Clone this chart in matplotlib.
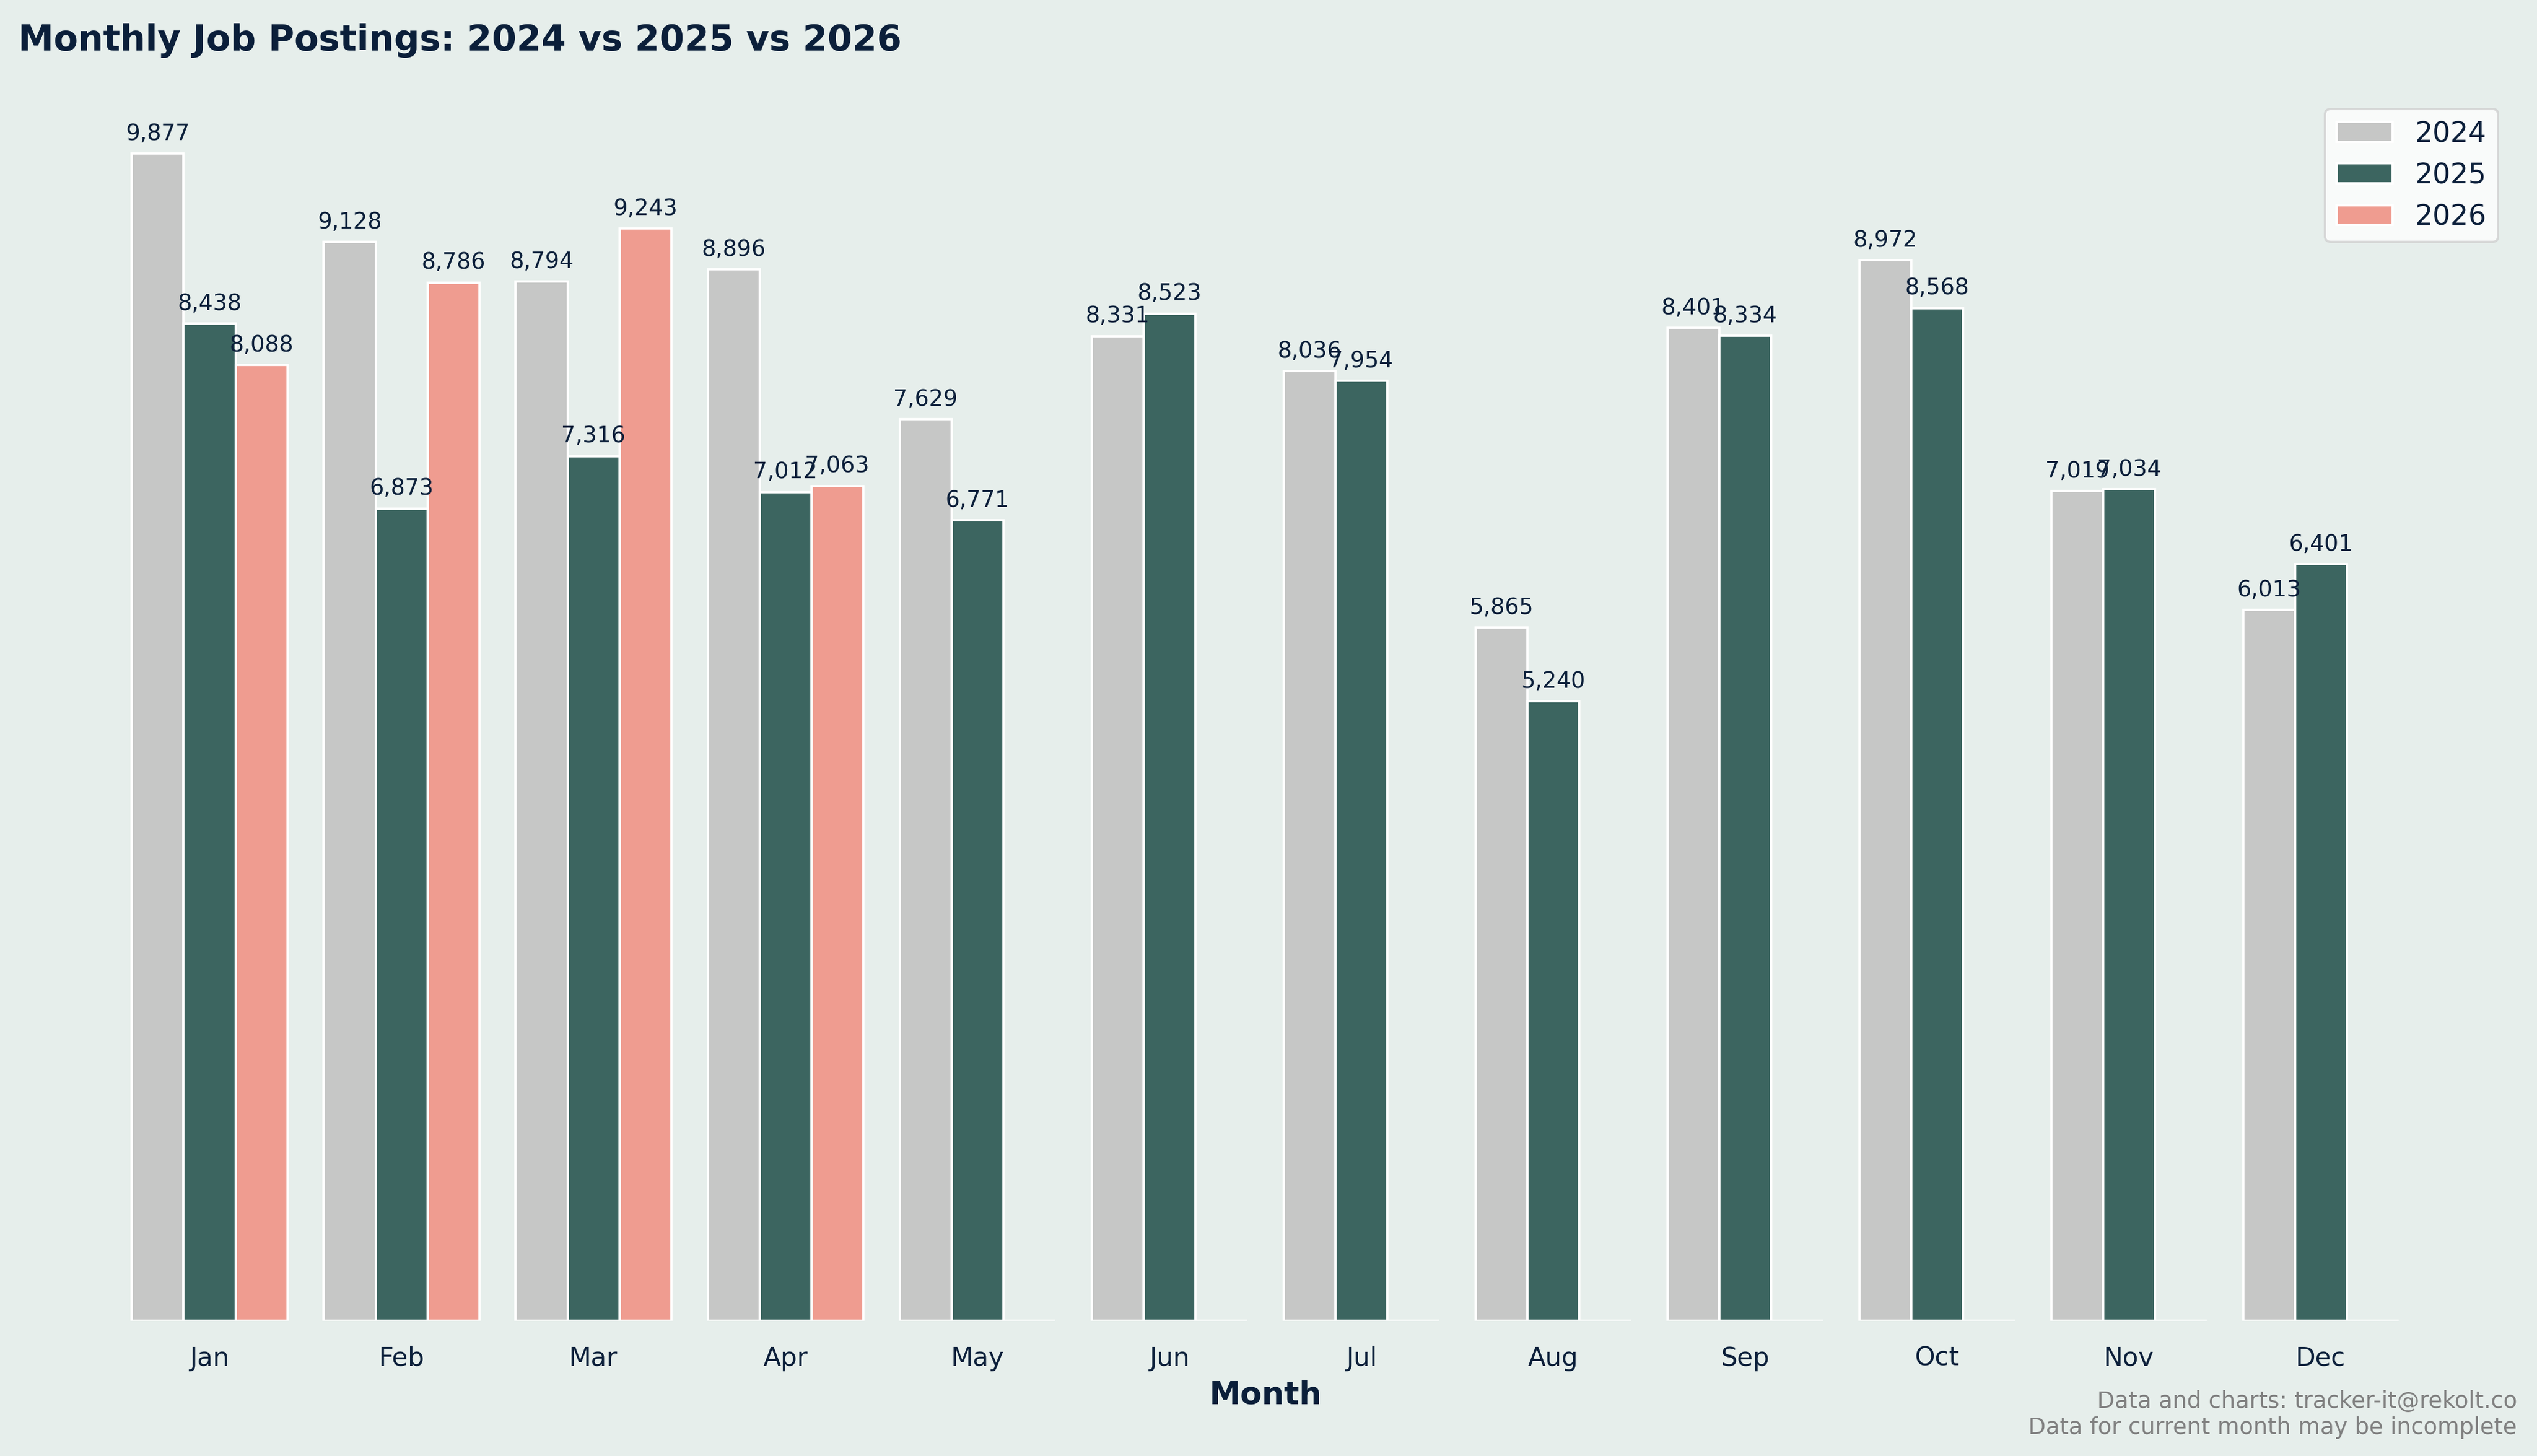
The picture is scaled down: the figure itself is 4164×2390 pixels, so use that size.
import numpy as np
import matplotlib
matplotlib.use("Agg")
import matplotlib.pyplot as plt

# dati
mesi = ["Jan", "Feb", "Mar", "Apr", "May", "Jun", "Jul", "Aug", "Sep", "Oct", "Nov", "Dec"]
anni = ["2024", "2025", "2026"]
y2024 = [9877, 9128, 8794, 8896, 7629, 8331, 8036, 5865, 8401, 8972, 7019, 6013]
y2025 = [8438, 6873, 7316, 7012, 6771, 8523, 7954, 5240, 8334, 8568, 7034, 6401]
y2026 = [8088, 8786, 9243, 7063, 0, 0, 0, 0, 0, 0, 0, 0]

colori = ["#c6c7c6", "#3c6560", "#ef9c90"]
sfondo = "#e6eeeb"
testo = "#0b1f3a"

plt.rcParams["font.family"] = "DejaVu Sans"

fig = plt.figure(figsize=(15.68, 9), dpi=265.6, facecolor=sfondo)
ax = fig.add_axes([0.0073, 0.0930, 0.9827, 0.8415])
ax.set_facecolor(sfondo)

x = np.arange(len(mesi))
w = 0.27
serie = [y2024, y2025, y2026]
for i, (anno, val) in enumerate(zip(anni, serie)):
    barre = ax.bar(x + (i - 1) * w, val, w, color=colori[i], edgecolor="white",
                   linewidth=1, label=anno)
    for b, v in zip(barre, val):
        if v > 0:
            ax.annotate(f"{v:,}", (b.get_x() + b.get_width() / 2, v),
                        xytext=(0, 4), textcoords="offset points",
                        ha="center", va="bottom", fontsize=10, color=testo)

ax.set_ylim(0, max(y2024 + y2025 + y2026) * 1.05)
ax.set_xticks(x)
ax.set_xticklabels(mesi, fontsize=11.5, color=testo)
ax.tick_params(axis="x", length=0, pad=11)
ax.set_yticks([])
for s in ax.spines.values():
    s.set_visible(False)

ax.set_xlabel("Month", fontsize=14, fontweight="bold", color=testo, labelpad=4)
ax.set_title("Monthly Job Postings: 2024 vs 2025 vs 2026", loc="left",
             fontsize=15.8, fontweight="bold", color=testo, pad=20)

leg = ax.legend(loc="upper right", fontsize=12.5, frameon=True, edgecolor="#d0d0d0")
for t in leg.get_texts():
    t.set_color(testo)

fig.text(0.992, 0.012, "Data and charts: tracker-it@rekolt.co\nData for current month may be incomplete",
         ha="right", va="bottom", fontsize=10.1, color="#808080")

fig.savefig("out.png", dpi=265.6, facecolor=sfondo)
